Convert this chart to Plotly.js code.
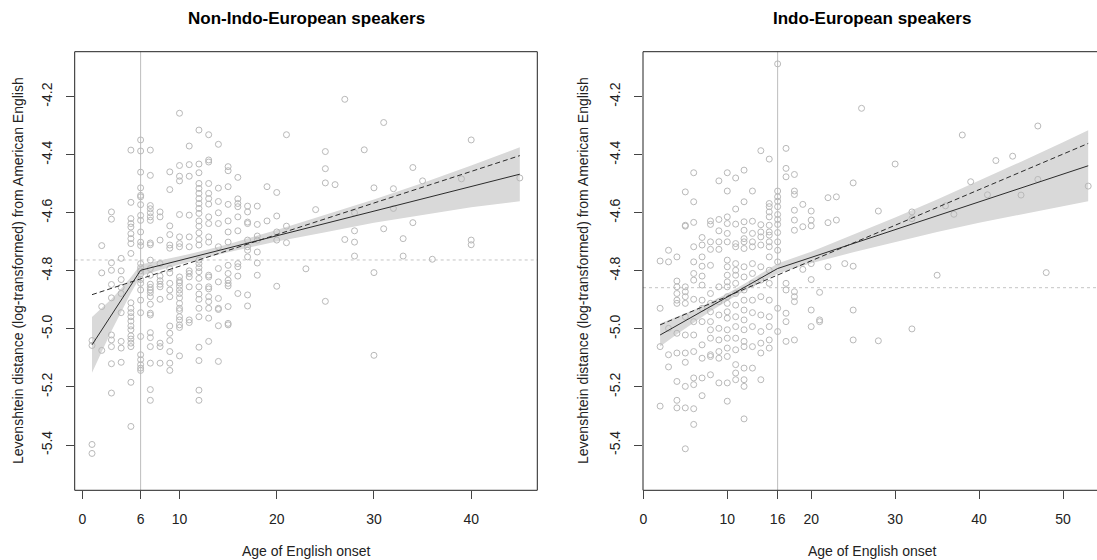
<!DOCTYPE html>
<html><head><meta charset="utf-8">
<script src="https://cdn.plot.ly/plotly-3.0.1.min.js"></script>
<style>html,body{margin:0;padding:0;background:#fff;}#chart{width:1097px;height:560px;}</style>
</head><body><div id="chart"></div>
<script>
// ---------- Non-Indo-European speakers ----------
const nonIE_ages = [1,2,3,4,5,6,7,8,9,10,11,12,13,14,15,16,17,18,19,20,21,23,24,25,26,27,28,29,30,31,32,33,34,35,36,39,40,45];
const nonIE_dist = [
  [-5.040,-5.057,-5.398,-5.429],
  [-4.713,-4.807,-4.923,-5.074],
  [-4.597,-4.622,-4.772,-4.798,-4.847,-4.893,-5.021,-5.038,-5.061,-5.120,-5.221],
  [-4.757,-4.800,-4.830,-4.857,-4.878,-4.944,-5.043,-5.066,-5.115],
  [-4.384,-4.564,-4.620,-4.637,-4.649,-4.672,-4.689,-4.706,-4.740,-4.910,-4.929,-4.944,-4.958,-4.973,-4.990,-5.003,-5.024,-5.035,-5.049,-5.061,-5.184,-5.336],
  [-4.349,-4.387,-4.460,-4.514,-4.540,-4.545,-4.572,-4.609,-4.626,-4.666,-4.701,-4.713,-4.775,-4.789,-4.800,-4.811,-4.830,-4.843,-4.866,-4.901,-4.944,-5.026,-5.089,-5.106,-5.123,-5.135,-5.143],
  [-4.384,-4.471,-4.575,-4.586,-4.600,-4.614,-4.626,-4.704,-4.710,-4.763,-4.792,-4.815,-4.846,-4.857,-4.866,-4.875,-4.889,-4.915,-4.946,-4.952,-5.013,-5.030,-5.061,-5.118,-5.209,-5.246],
  [-4.597,-4.614,-4.694,-4.775,-4.818,-4.834,-4.846,-4.855,-4.898,-5.049,-5.061,-5.118],
  [-4.459,-4.520,-4.645,-4.675,-4.711,-4.722,-4.792,-4.807,-4.843,-4.866,-4.889,-4.990,-5.015,-5.040,-5.078,-5.118,-5.143],
  [-4.257,-4.437,-4.474,-4.490,-4.606,-4.683,-4.706,-4.717,-4.821,-4.834,-4.841,-4.853,-4.866,-4.878,-4.893,-4.912,-4.929,-4.937,-4.958,-4.969,-4.986,-4.995,-5.093],
  [-4.370,-4.434,-4.474,-4.608,-4.683,-4.717,-4.800,-4.809,-4.821,-4.855,-4.969,-4.978],
  [-4.315,-4.432,-4.462,-4.499,-4.516,-4.533,-4.551,-4.568,-4.585,-4.602,-4.628,-4.646,-4.669,-4.692,-4.711,-4.763,-4.775,-4.789,-4.803,-4.826,-4.855,-4.880,-4.898,-4.929,-4.958,-5.063,-5.109,-5.211,-5.246],
  [-4.331,-4.418,-4.425,-4.499,-4.533,-4.551,-4.570,-4.614,-4.637,-4.683,-4.701,-4.815,-4.821,-4.855,-4.862,-4.889,-4.906,-4.929,-4.963,-5.043],
  [-4.364,-4.515,-4.561,-4.600,-4.637,-4.717,-4.792,-4.838,-4.895,-4.929,-4.933,-4.989,-5.112],
  [-4.441,-4.455,-4.510,-4.571,-4.628,-4.666,-4.701,-4.781,-4.809,-4.832,-4.843,-4.852,-4.923,-4.981,-4.986],
  [-4.478,-4.552,-4.568,-4.579,-4.614,-4.662,-4.775,-4.786,-4.818,-4.878],
  [-4.577,-4.597,-4.632,-4.637,-4.694,-4.717,-4.729,-4.752,-4.883,-4.921],
  [-4.577,-4.640,-4.680,-4.694,-4.735,-4.773,-4.815],
  [-4.510,-4.628],
  [-4.530,-4.611,-4.666,-4.694,-4.853],
  [-4.331,-4.646,-4.703],
  [-4.793],
  [-4.589],
  [-4.389,-4.448,-4.497,-4.905],
  [-4.503],
  [-4.209,-4.692],
  [-4.600,-4.662,-4.701,-4.749],
  [-4.383],
  [-4.514,-4.806,-5.091],
  [-4.289,-4.655],
  [-4.517,-4.585],
  [-4.689,-4.749],
  [-4.444,-4.634],
  [-4.490],
  [-4.760],
  [-4.483],
  [-4.349,-4.694,-4.710],
  [-4.480]
];
const nonIE_break = 6;
const nonIE_mean = -4.7625;
const nonIE_fitX = [1, 6, 45];
const nonIE_fitY = [-5.055, -4.798, -4.467];
const nonIE_linX = [1, 45];
const nonIE_linY = [-4.882, -4.403];
const nonIE_bandX  = [1, 2, 3, 4, 5, 6, 8, 10, 12, 15, 20, 25, 30, 35, 40, 45];
const nonIE_bandHi = [-4.959,-4.929,-4.897,-4.861,-4.822,-4.778,-4.765,-4.750,-4.734,-4.708,-4.659,-4.607,-4.554,-4.497,-4.437,-4.374];
const nonIE_bandLo = [-5.151,-5.079,-5.007,-4.941,-4.876,-4.818,-4.797,-4.778,-4.760,-4.736,-4.699,-4.667,-4.634,-4.607,-4.581,-4.560];

// ---------- Indo-European speakers ----------
const IE_ages = [2,3,4,5,6,7,8,9,10,11,12,13,14,15,16,17,18,19,20,21,22,23,24,25,26,28,30,32,35,36,37,38,39,41,42,44,45,47,48,53];
const IE_dist = [
  [-4.766,-4.929,-5.061,-5.266],
  [-4.729,-4.769,-4.998,-5.089,-5.131],
  [-4.752,-4.835,-4.855,-4.878,-4.901,-4.912,-5.015,-5.083,-5.181,-5.246,-5.272],
  [-4.528,-4.643,-4.646,-4.855,-4.872,-4.889,-4.912,-4.958,-5.021,-5.083,-5.115,-5.198,-5.272,-5.413],
  [-4.462,-4.562,-4.633,-4.717,-4.769,-4.809,-4.832,-4.898,-4.975,-5.021,-5.078,-5.169,-5.192,-5.275,-5.329],
  [-4.685,-4.711,-4.752,-4.784,-4.818,-4.849,-4.901,-4.929,-4.975,-5.055,-5.101,-5.169,-5.230],
  [-4.628,-4.640,-4.700,-4.726,-4.781,-4.878,-4.912,-4.941,-4.975,-5.003,-5.032,-5.089,-5.095,-5.158],
  [-4.490,-4.623,-4.662,-4.700,-4.726,-4.855,-4.906,-4.952,-4.998,-5.038,-5.078,-5.101,-5.186],
  [-4.462,-4.525,-4.614,-4.637,-4.671,-4.700,-4.763,-4.786,-4.815,-4.838,-4.855,-4.889,-4.912,-4.941,-4.963,-5.003,-5.032,-5.066,-5.095,-5.186,-5.249],
  [-4.480,-4.587,-4.639,-4.706,-4.717,-4.775,-4.798,-4.815,-4.843,-4.878,-4.918,-4.958,-4.992,-5.032,-5.072,-5.123,-5.152,-5.175],
  [-4.453,-4.562,-4.631,-4.660,-4.689,-4.700,-4.723,-4.786,-4.821,-4.866,-4.901,-4.935,-4.969,-5.003,-5.043,-5.061,-5.135,-5.175,-5.198,-5.310],
  [-4.525,-4.629,-4.671,-4.700,-4.717,-4.775,-4.809,-4.843,-4.901,-4.944,-4.992,-5.061,-5.135],
  [-4.386,-4.641,-4.666,-4.683,-4.711,-4.786,-4.832,-4.889,-4.952,-5.009,-5.049,-5.083,-5.175],
  [-4.415,-4.568,-4.579,-4.597,-4.614,-4.643,-4.666,-4.677,-4.700,-4.717,-4.752,-4.798,-4.843,-4.901,-4.958,-4.992,-5.038,-5.066],
  [-4.087,-4.525,-4.545,-4.560,-4.579,-4.606,-4.623,-4.640,-4.668,-4.700,-4.729,-4.769,-4.929,-5.009],
  [-4.378,-4.447,-4.476,-4.843,-4.866,-4.946,-4.975,-5.043],
  [-4.468,-4.525,-4.537,-4.591,-4.625,-4.660,-4.872,-4.889,-4.906,-5.038],
  [-4.571,-4.648,-4.795],
  [-4.594,-4.625,-4.645,-4.775,-4.830,-4.935,-4.992],
  [-4.874,-4.969,-4.975],
  [-4.548,-4.634,-4.786],
  [-4.545,-4.625],
  [-4.775],
  [-4.497,-4.784,-4.935,-5.038],
  [-4.240],
  [-4.594,-5.041],
  [-4.432],
  [-4.597,-4.620,-5.000],
  [-4.815],
  [-4.576],
  [-4.605],
  [-4.332],
  [-4.493],
  [-4.538],
  [-4.420],
  [-4.405],
  [-4.539],
  [-4.301,-4.485],
  [-4.806],
  [-4.508]
];
const IE_break = 16;
const IE_mean = -4.858;
const IE_fitX = [2, 16, 53];
const IE_fitY = [-5.021, -4.792, -4.438];
const IE_linX = [2, 53];
const IE_linY = [-4.986, -4.361];
const IE_bandX  = [2, 4, 6, 8, 10, 12, 14, 16, 20, 25, 30, 35, 40, 45, 50, 53];
const IE_bandHi = [-4.981,-4.958,-4.935,-4.907,-4.878,-4.845,-4.811,-4.775,-4.734,-4.676,-4.616,-4.554,-4.490,-4.424,-4.357,-4.316];
const IE_bandLo = [-5.061,-5.018,-4.979,-4.939,-4.904,-4.869,-4.839,-4.809,-4.774,-4.736,-4.700,-4.666,-4.634,-4.604,-4.577,-4.560];

const yTickVals = [-5.4,-5.2,-5.0,-4.8,-4.6,-4.4,-4.2];
const yTickText = ["-5.4","-5.2","-5.0","-4.8","-4.6","-4.4","-4.2"];
const xTicksL = [0, 6, 10, 20, 30, 40];
const xTicksR = [0, 10, 16, 20, 30, 40, 50];

const FONT = "Liberation Sans, Arial, Helvetica, sans-serif";
const PT = '#b9b9b9', LN = '#2b2b2b', BAND = '#d9d9d9';

function flat(ages, vals){ const x=[], y=[]; ages.forEach((a,i)=>vals[i].forEach(v=>{x.push(a);y.push(v);})); return {x,y}; }
function panel(ages, vals, bandX, hi, lo, fitX, fitY, linX, linY, xa, ya){
  const p = flat(ages, vals);
  return [
    {x: bandX.concat(bandX.slice().reverse()), y: hi.concat(lo.slice().reverse()), fill:'toself', fillcolor:BAND, line:{width:0}, mode:'lines', hoverinfo:'skip', xaxis:xa, yaxis:ya},
    {x:p.x, y:p.y, mode:'markers', marker:{symbol:'circle-open', size:6, color:PT, line:{width:1, color:PT}}, xaxis:xa, yaxis:ya},
    {x:fitX, y:fitY, mode:'lines', line:{color:LN, width:1}, xaxis:xa, yaxis:ya},
    {x:linX, y:linY, mode:'lines', line:{color:LN, width:1, dash:'5px,3px'}, xaxis:xa, yaxis:ya}
  ];
}
const data = [].concat(
  panel(nonIE_ages, nonIE_dist, nonIE_bandX, nonIE_bandHi, nonIE_bandLo, nonIE_fitX, nonIE_fitY, nonIE_linX, nonIE_linY, 'x', 'y'),
  panel(IE_ages, IE_dist, IE_bandX, IE_bandHi, IE_bandLo, IE_fitX, IE_fitY, IE_linX, IE_linY, 'x2', 'y2')
);

const L0 = 74.7/1097, L1 = 537.3/1097, R0 = 643/1097;
const Y0 = 1 - 490.3/560, Y1 = 1 - 51.7/560;
const tickFont = {family:FONT, size:14, color:'#222'};
function xax(dom, range, ticks, anchor){ return {domain:dom, range:range, tickvals:ticks, ticktext:ticks.map(String), ticks:'outside', ticklen:8, tickwidth:1, tickcolor:'#444', showgrid:false, zeroline:false, showline:false, tickfont:tickFont, ticklabelstandoff:8, anchor:anchor, fixedrange:true}; }
function yax(anchor){ return {domain:[Y0,Y1], range:[-5.556,-4.045], tickvals:yTickVals, ticktext:yTickText, ticks:'outside', ticklen:8, tickwidth:1, tickcolor:'#444', showgrid:false, zeroline:false, showline:false, tickfont:tickFont, tickangle:-90, ticklabelstandoff:8, anchor:anchor, fixedrange:true}; }

const layout = {
  width:1097, height:560, margin:{l:0,r:0,t:0,b:0}, paper_bgcolor:'#fff', plot_bgcolor:'#fff', showlegend:false,
  xaxis: xax([L0,L1], [-0.78, 46.8], xTicksL, 'y'),
  yaxis: yax('x'),
  xaxis2: xax([R0,1], [-0.04, 54.05], xTicksR, 'y2'),
  yaxis2: yax('x2'),
  shapes: [
    {type:'line', xref:'x', yref:'y domain', x0:nonIE_break, x1:nonIE_break, y0:0, y1:1, line:{color:'#bdbdbd', width:1}, layer:'below'},
    {type:'line', xref:'x domain', yref:'y', x0:0, x1:1, y0:nonIE_mean, y1:nonIE_mean, line:{color:'#c4c4c4', width:1, dash:'dot'}, layer:'below'},
    {type:'line', xref:'x2', yref:'y2 domain', x0:IE_break, x1:IE_break, y0:0, y1:1, line:{color:'#bdbdbd', width:1}, layer:'below'},
    {type:'line', xref:'x2 domain', yref:'y2', x0:0, x1:1, y0:IE_mean, y1:IE_mean, line:{color:'#c4c4c4', width:1, dash:'dot'}, layer:'below'},
    {type:'rect', xref:'paper', yref:'paper', x0:L0, x1:L1, y0:Y0, y1:Y1, line:{color:'#222', width:1}},
    {type:'rect', xref:'paper', yref:'paper', x0:R0, x1:1.02, y0:Y0, y1:Y1, line:{color:'#222', width:1}}
  ],
  annotations: [
    {text:'<b>Non-Indo-European speakers</b>', xref:'paper', yref:'paper', x:306/1097, y:1-18/560, showarrow:false, font:{family:FONT, size:17, color:'#000'}, xanchor:'center', yanchor:'middle'},
    {text:'<b>Indo-European speakers</b>', xref:'paper', yref:'paper', x:872/1097, y:1-18/560, showarrow:false, font:{family:FONT, size:17, color:'#000'}, xanchor:'center', yanchor:'middle'},
    {text:'Age of English onset', xref:'paper', yref:'paper', x:306/1097, y:1-551/560, showarrow:false, font:{family:FONT, size:14, color:'#222'}, xanchor:'center', yanchor:'middle'},
    {text:'Age of English onset', xref:'paper', yref:'paper', x:872/1097, y:1-551/560, showarrow:false, font:{family:FONT, size:14, color:'#222'}, xanchor:'center', yanchor:'middle'},
    {text:'Levenshtein distance (log-transformed) from American English', xref:'paper', yref:'paper', x:18/1097, y:1-271/560, showarrow:false, textangle:-90, font:{family:FONT, size:14, color:'#222'}, xanchor:'center', yanchor:'middle'},
    {text:'Levenshtein distance (log-transformed) from American English', xref:'paper', yref:'paper', x:583/1097, y:1-271/560, showarrow:false, textangle:-90, font:{family:FONT, size:14, color:'#222'}, xanchor:'center', yanchor:'middle'}
  ]
};
Plotly.newPlot('chart', data, layout, {displayModeBar:false, staticPlot:true});
</script></body></html>
